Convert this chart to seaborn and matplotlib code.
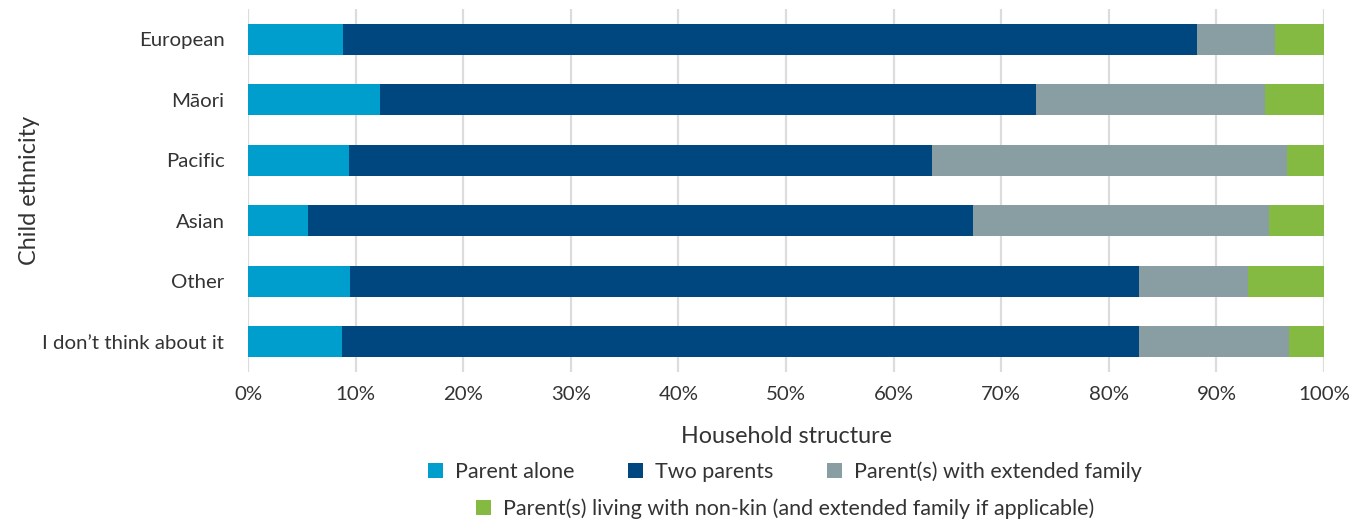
import matplotlib
matplotlib.use("Agg")
import matplotlib.pyplot as plt
from matplotlib.patches import Patch
import numpy as np
import pandas as pd
import seaborn as sns

# Share of children (%) by household structure, for each child ethnicity
ethnicities = ["European", "Māori", "Pacific", "Asian", "Other", "I don\u2019t think about it"]
parent_alone = [8.8, 12.3, 9.4, 5.6, 9.5, 8.7]
two_parents = [79.4, 60.9, 54.2, 61.8, 73.3, 74.1]
extended_family = [7.2, 21.3, 33.0, 27.5, 10.1, 13.9]
non_kin = [4.6, 5.5, 3.4, 5.1, 7.1, 3.3]

structures = [
    "Parent alone",
    "Two parents",
    "Parent(s) with extended family",
    "Parent(s) living with non-kin (and extended family if applicable)",
]
colors = ["#009ecc", "#00467f", "#889ea3", "#84ba42"]
x_ticks = [0, 10, 20, 30, 40, 50, 60, 70, 80, 90, 100]

df = pd.DataFrame(
    {
        "ethnicity": ethnicities,
        structures[0]: parent_alone,
        structures[1]: two_parents,
        structures[2]: extended_family,
        structures[3]: non_kin,
    }
)
# Running totals so each layer can be drawn behind the previous one
cum = df[structures].cumsum(axis=1)
cum["ethnicity"] = df["ethnicity"]

sns.set_theme(style="white")
plt.rcParams["font.family"] = ["Lato", "DejaVu Sans"]
text_color = "#333333"

fig = plt.figure(figsize=(13.57, 5.22), dpi=100)
ax = fig.add_axes([0.1828, 0.2874, 0.7929, 0.6954])

for name, col in reversed(list(zip(structures, colors))):
    sns.barplot(
        data=cum, x=name, y="ethnicity", order=ethnicities,
        color=col, width=0.51, saturation=1, orient="h", ax=ax,
        edgecolor="none", linewidth=0,
    )

ax.set_xlim(0, 100)
ax.set_ylim(5.5, -0.5)
ax.set_xticks(x_ticks)
ax.set_xticklabels([f"{t}%" for t in x_ticks])
ax.xaxis.grid(True, color="#dcdcdc", linewidth=1.6)
ax.yaxis.grid(False)
ax.set_axisbelow(True)
for s in ax.spines.values():
    s.set_visible(False)

ax.tick_params(axis="x", labelsize=14.7, colors=text_color, pad=10, length=0)
ax.tick_params(axis="y", labelsize=14.7, colors=text_color, pad=17, length=0)
ax.set_xlabel("Household structure", fontsize=16.8, color=text_color, labelpad=17)
ax.set_ylabel("Child ethnicity", fontsize=16.8, color=text_color, labelpad=2)

handles = [Patch(facecolor=c, edgecolor="none") for c in colors]
common = dict(
    frameon=False, fontsize=15.5, handlelength=0.7, handleheight=0.7,
    handletextpad=0.55, columnspacing=2.5, labelcolor=text_color,
    loc="center",
)
fig.legend(handles[:3], structures[:3], ncol=3,
           bbox_to_anchor=(0.5785, 0.0957), **common)
fig.legend(handles[3:], structures[3:], ncol=1,
           bbox_to_anchor=(0.5785, 0.0258), **common)

fig.savefig("out.png", dpi=100)
